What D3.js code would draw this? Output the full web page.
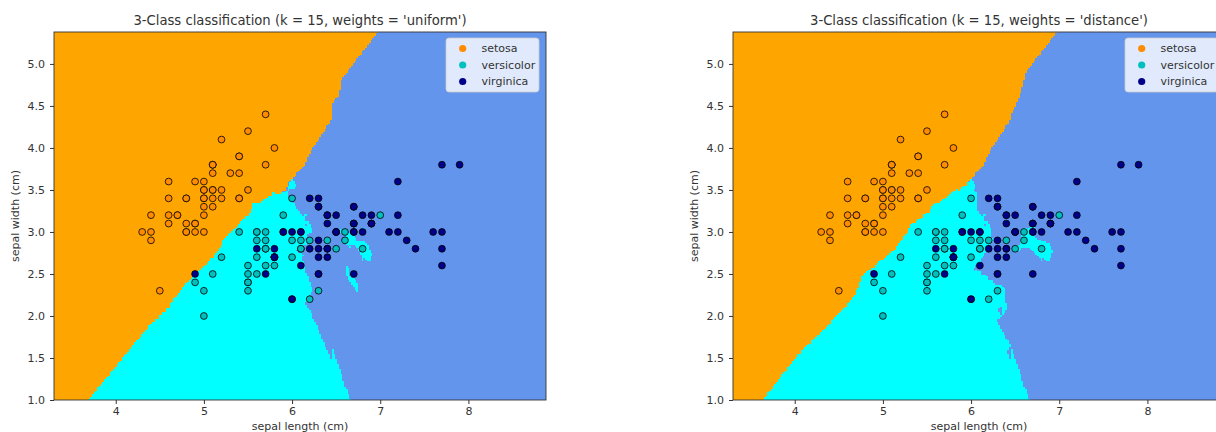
<!doctype html>
<html>
<head>
<meta charset="utf-8">
<script src="https://d3js.org/d3.v7.min.js"></script>
<style>
  body { margin: 0; background: #fff; overflow: hidden; }
  svg { font-family: "DejaVu Sans", sans-serif; }
  text { fill: #333; }
  .tick line { stroke: #333; }
</style>
</head>
<body>
<div id="chart"></div>
<script>
// iris, first two features: [sepal length, sepal width]
const classNames = ["setosa", "versicolor", "virginica"];

const setosa = [
  [5.1,3.5],[4.9,3.0],[4.7,3.2],[4.6,3.1],[5.0,3.6],[5.4,3.9],[4.6,3.4],[5.0,3.4],[4.4,2.9],[4.9,3.1],
  [5.4,3.7],[4.8,3.4],[4.8,3.0],[4.3,3.0],[5.8,4.0],[5.7,4.4],[5.4,3.9],[5.1,3.5],[5.7,3.8],[5.1,3.8],
  [5.4,3.4],[5.1,3.7],[4.6,3.6],[5.1,3.3],[4.8,3.4],[5.0,3.0],[5.0,3.4],[5.2,3.5],[5.2,3.4],[4.7,3.2],
  [4.8,3.1],[5.4,3.4],[5.2,4.1],[5.5,4.2],[4.9,3.1],[5.0,3.2],[5.5,3.5],[4.9,3.6],[4.4,3.0],[5.1,3.4],
  [5.0,3.5],[4.5,2.3],[4.4,3.2],[5.0,3.5],[5.1,3.8],[4.8,3.0],[5.1,3.8],[4.6,3.2],[5.3,3.7],[5.0,3.3]
];
const versicolor = [
  [7.0,3.2],[6.4,3.2],[6.9,3.1],[5.5,2.3],[6.5,2.8],[5.7,2.8],[6.3,3.3],[4.9,2.4],[6.6,2.9],[5.2,2.7],
  [5.0,2.0],[5.9,3.0],[6.0,2.2],[6.1,2.9],[5.6,2.9],[6.7,3.1],[5.6,3.0],[5.8,2.7],[6.2,2.2],[5.6,2.5],
  [5.9,3.2],[6.1,2.8],[6.3,2.5],[6.1,2.8],[6.4,2.9],[6.6,3.0],[6.8,2.8],[6.7,3.0],[6.0,2.9],[5.7,2.6],
  [5.5,2.4],[5.5,2.4],[5.8,2.7],[6.0,2.7],[5.4,3.0],[6.0,3.4],[6.7,3.1],[6.3,2.3],[5.6,3.0],[5.5,2.5],
  [5.5,2.6],[6.1,3.0],[5.8,2.6],[5.0,2.3],[5.6,2.7],[5.7,3.0],[5.7,2.9],[6.2,2.9],[5.1,2.5],[5.7,2.8]
];
const virginica = [
  [6.3,3.3],[5.8,2.7],[7.1,3.0],[6.3,2.9],[6.5,3.0],[7.6,3.0],[4.9,2.5],[7.3,2.9],[6.7,2.5],[7.2,3.6],
  [6.5,3.2],[6.4,2.7],[6.8,3.0],[5.7,2.5],[5.8,2.8],[6.4,3.2],[6.5,3.0],[7.7,3.8],[7.7,2.6],[6.0,2.2],
  [6.9,3.2],[5.6,2.8],[7.7,2.8],[6.3,2.7],[6.7,3.3],[7.2,3.2],[6.2,2.8],[6.1,3.0],[6.4,2.8],[7.2,3.0],
  [7.4,2.8],[7.9,3.8],[6.4,2.8],[6.3,2.8],[6.1,2.6],[7.7,3.0],[6.3,3.4],[6.4,3.1],[6.0,3.0],[6.9,3.1],
  [6.7,3.1],[6.9,3.1],[5.8,2.7],[6.8,3.2],[6.7,3.3],[6.7,3.0],[6.3,2.5],[6.5,3.0],[6.2,3.4],[5.9,3.0]
];

const nNeighbors = 15;
const weightModes = ["uniform", "distance"];
const xDomain = [3.3, 8.88];
const yDomain = [1.0, 5.38];
const meshStep = 0.02;
const xTicks = [4, 5, 6, 7, 8];
const yTicks = [1.0, 1.5, 2.0, 2.5, 3.0, 3.5, 4.0, 4.5, 5.0];

const lightColors = ["#ffa500", "#00ffff", "#6495ed"];   // orange, cyan, cornflowerblue
const boldColors = ["#ff8c00", "#00bfbf", "#00008b"];    // darkorange, c, darkblue

// training set in sklearn order
var train = [];
[setosa, versicolor, virginica].forEach(function(arr, c) {
  arr.forEach(function(p) { train.push({x: p[0], y: p[1], c: c}); });
});

// k nearest neighbours, returns [uniform class, distance class]
function predict(px, py) {
  var idx = [], dist = [];
  for (var i = 0; i < train.length; i++) {
    var dx = train[i].x - px, dy = train[i].y - py;
    var d = dx * dx + dy * dy;
    if (idx.length < nNeighbors) {
      idx.push(i); dist.push(d);
    } else if (d < dist[nNeighbors - 1]) {
      idx[nNeighbors - 1] = i; dist[nNeighbors - 1] = d;
    } else continue;
    var j = idx.length - 1;
    while (j > 0 && dist[j - 1] > dist[j]) {
      var t = dist[j]; dist[j] = dist[j - 1]; dist[j - 1] = t;
      t = idx[j]; idx[j] = idx[j - 1]; idx[j - 1] = t;
      j--;
    }
  }
  var counts = [0, 0, 0], wsum = [0, 0, 0], zero = [0, 0, 0], hasZero = false;
  for (var m = 0; m < idx.length; m++) {
    var c = train[idx[m]].c;
    counts[c] += 1;
    var r = Math.sqrt(dist[m]);
    if (r === 0) { hasZero = true; zero[c] += 1; }
    else wsum[c] += 1 / r;
  }
  if (hasZero) wsum = zero;
  return [d3.maxIndex(counts), d3.maxIndex(wsum)];
}

var nx = Math.round((xDomain[1] - xDomain[0]) / meshStep) + 1;
var ny = Math.round((yDomain[1] - yDomain[0]) / meshStep) + 1;
var meshX = d3.range(nx).map(function(i) { return xDomain[0] + i * meshStep; });
var meshY = d3.range(ny).map(function(j) { return yDomain[0] + j * meshStep; });

var Z = [[], []];
meshY.forEach(function(gy) {
  var rowU = [], rowD = [];
  meshX.forEach(function(gx) {
    var p = predict(gx, gy);
    rowU.push(p[0]); rowD.push(p[1]);
  });
  Z[0].push(rowU); Z[1].push(rowD);
});

var W = 1216, H = 432;
var margin = {top: 32, left: 54},
  width = 492,
  height = 368,
  panelGap = 679;

var svg = d3.select("#chart")
  .append("svg")
    .attr("width", W)
    .attr("height", H);

var x = d3.scaleLinear().domain(xDomain).range([0, width]);
var y = d3.scaleLinear().domain(yDomain).range([height, 0]);

function drawPanel(p) {
  var g = svg.append("g")
    .attr("transform", "translate(" + (margin.left + p * panelGap) + "," + margin.top + ")");

  g.append("clipPath").attr("id", "clip" + p)
    .append("rect").attr("width", width).attr("height", height);

  // decision regions as horizontal runs of mesh cells
  var runs = [];
  var grid = Z[p];
  meshY.forEach(function(gy, j) {
    var row = grid[j], start = 0;
    for (var i = 1; i <= row.length; i++) {
      if (i === row.length || row[i] !== row[start]) {
        runs.push({x0: meshX[start] - meshStep / 2, x1: meshX[i - 1] + meshStep / 2,
                   y0: gy - meshStep / 2, y1: gy + meshStep / 2, c: row[start]});
        start = i;
      }
    }
  });

  g.append("g")
    .attr("clip-path", "url(#clip" + p + ")")
    .selectAll("rect")
    .data(runs)
    .join("rect")
      .attr("x", function(d) { return x(d.x0); })
      .attr("y", function(d) { return y(d.y1); })
      .attr("width", function(d) { return x(d.x1) - x(d.x0); })
      .attr("height", function(d) { return y(d.y0) - y(d.y1); })
      .attr("fill", function(d) { return lightColors[d.c]; })
      .attr("shape-rendering", "crispEdges");

  // points
  g.append("g")
    .attr("clip-path", "url(#clip" + p + ")")
    .selectAll("circle")
    .data(train)
    .join("circle")
      .attr("cx", function(d) { return x(d.x); })
      .attr("cy", function(d) { return y(d.y); })
      .attr("r", 3.4)
      .attr("fill", function(d) { return boldColors[d.c]; })
      .attr("stroke", "#000")
      .attr("stroke-width", 0.8);

  // frame
  g.append("rect")
    .attr("width", width).attr("height", height)
    .attr("fill", "none").attr("stroke", "#333").attr("stroke-width", 0.9);

  // axes
  var xAxis = g.append("g")
    .attr("transform", "translate(0," + height + ")")
    .call(d3.axisBottom(x).tickValues(xTicks).tickSize(4).tickPadding(3).tickFormat(d3.format("d")));
  var yAxis = g.append("g")
    .call(d3.axisLeft(y).tickValues(yTicks).tickSize(4).tickPadding(5).tickFormat(d3.format(".1f")));
  [xAxis, yAxis].forEach(function(a) {
    a.select(".domain").remove();
    a.selectAll("text").style("font-size", "11px").style("font-family", "DejaVu Sans").attr("fill", "#333");
  });

  g.append("text")
    .attr("x", width / 2).attr("y", height + 30)
    .attr("text-anchor", "middle")
    .style("font-size", "11px")
    .text("sepal length (cm)");

  g.append("text")
    .attr("transform", "translate(-35," + height / 2 + ")rotate(-90)")
    .attr("text-anchor", "middle")
    .style("font-size", "11px")
    .text("sepal width (cm)");

  g.append("text")
    .attr("x", width / 2).attr("y", -7.5)
    .attr("text-anchor", "middle")
    .style("font-size", "13.2px")
    .text("3-Class classification (k = " + nNeighbors + ", weights = '" + weightModes[p] + "')");

  // legend
  var lg = g.append("g").attr("transform", "translate(" + (width - 100) + ",6)");
  lg.append("rect")
    .attr("width", 93).attr("height", 54).attr("rx", 3)
    .attr("fill", "#fff").attr("fill-opacity", 0.8)
    .attr("stroke", "#ccc").attr("stroke-opacity", 0.8);
  var item = lg.selectAll("g.item")
    .data(classNames)
    .join("g")
      .attr("class", "item")
      .attr("transform", function(d, i) { return "translate(0," + (10.5 + i * 16.5) + ")"; });
  item.append("circle")
    .attr("cx", 16.7).attr("r", 3.6)
    .attr("fill", function(d, i) { return boldColors[i]; });
  item.append("text")
    .attr("x", 35.5).attr("dy", "0.35em")
    .style("font-size", "11px")
    .text(function(d) { return d; });
}

weightModes.forEach(function(w, p) { drawPanel(p); });
</script>
</body>
</html>
